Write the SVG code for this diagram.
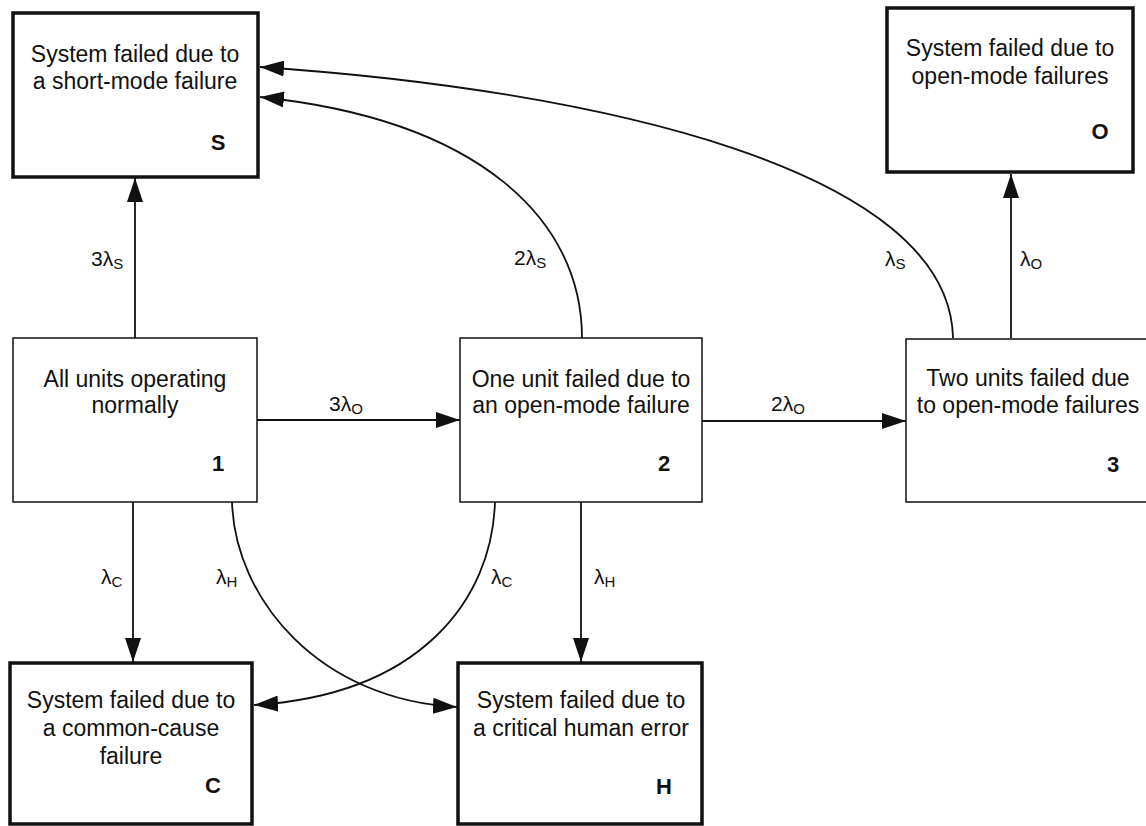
<svg xmlns="http://www.w3.org/2000/svg" width="1146" height="826" viewBox="0 0 1146 826">
  <style>
    .bg { fill: #ffffff; }
    .state { fill: #ffffff; stroke: #111; stroke-width: 1.5; }
    .absorb { fill: #ffffff; stroke: #111; stroke-width: 3.5; }
    .txt { font-family: "Liberation Sans", Arial, sans-serif; font-size: 23px; fill: #111; text-anchor: middle; }
    .id { font-family: "Liberation Sans", Arial, sans-serif; font-size: 22px; font-weight: bold; fill: #111; text-anchor: middle; }
    .rate { font-family: "Liberation Sans", Arial, sans-serif; font-size: 21px; fill: #111; }
    .sub { font-size: 15px; }
    .edge { fill: none; stroke: #111; stroke-width: 1.8; marker-end: url(#head); }
  </style>
  <defs>
    <marker id="head" markerUnits="userSpaceOnUse" markerWidth="24" markerHeight="16" refX="24" refY="8" orient="auto">
      <path d="M0,0 L24,8 L0,16 z" fill="#111"/>
    </marker>
  </defs>

  <rect class="bg" x="0" y="0" width="1146" height="826"/>

  <!-- transitions -->
  <g id="connectors">
    <path class="edge" d="M135,338 L135,178"/>
    <path class="edge" d="M1011,338 L1011,174"/>
    <path class="edge" d="M257,420 L460,420"/>
    <path class="edge" d="M702,421 L906,421"/>
    <path class="edge" d="M133,502 L133,662"/>
    <path class="edge" d="M581,502 L581,662"/>
    <path class="edge" d="M582,338 C582,220 480,120 260,97"/>
    <path class="edge" d="M953,338 C950,170 600,90 260,67"/>
    <path class="edge" d="M495,502 C492,600 420,695 254,705"/>
    <path class="edge" d="M232,502 C235,600 320,700 457,707"/>

    <text class="rate" x="91" y="266">3λ<tspan class="sub" dy="3">S</tspan></text>
    <text class="rate" x="514" y="265">2λ<tspan class="sub" dy="3">S</tspan></text>
    <text class="rate" x="885" y="266">λ<tspan class="sub" dy="3">S</tspan></text>
    <text class="rate" x="1020" y="266">λ<tspan class="sub" dy="3">O</tspan></text>
    <text class="rate" x="329" y="411">3λ<tspan class="sub" dy="3">O</tspan></text>
    <text class="rate" x="771" y="411">2λ<tspan class="sub" dy="3">O</tspan></text>
    <text class="rate" x="101" y="584">λ<tspan class="sub" dy="3">C</tspan></text>
    <text class="rate" x="216" y="584">λ<tspan class="sub" dy="3">H</tspan></text>
    <text class="rate" x="491" y="584">λ<tspan class="sub" dy="3">C</tspan></text>
    <text class="rate" x="594" y="584">λ<tspan class="sub" dy="3">H</tspan></text>
  </g>

  <g id="state-S">
    <rect class="absorb" x="13" y="13" width="245" height="164"/>
    <text class="txt" x="135" y="62">System failed due to</text>
    <text class="txt" x="135" y="89">a short-mode failure</text>
    <text class="id" x="218" y="150">S</text>
  </g>

  <g id="state-O">
    <rect class="absorb" x="887" y="8" width="246" height="164"/>
    <text class="txt" x="1010" y="56">System failed due to</text>
    <text class="txt" x="1010" y="84">open-mode failures</text>
    <text class="id" x="1100" y="139">O</text>
  </g>

  <g id="state-1">
    <rect class="state" x="13" y="338" width="244" height="164"/>
    <text class="txt" x="135" y="387">All units operating</text>
    <text class="txt" x="135" y="413">normally</text>
    <text class="id" x="218" y="471">1</text>
  </g>

  <g id="state-2">
    <rect class="state" x="460" y="338" width="242" height="164"/>
    <text class="txt" x="581" y="387">One unit failed due to</text>
    <text class="txt" x="581" y="413">an open-mode failure</text>
    <text class="id" x="664" y="471">2</text>
  </g>

  <g id="state-3">
    <rect class="state" x="906" y="339" width="250" height="163"/>
    <text class="txt" x="1028" y="386">Two units failed due</text>
    <text class="txt" x="1028" y="413">to open-mode failures</text>
    <text class="id" x="1113" y="472">3</text>
  </g>

  <g id="state-C">
    <rect class="absorb" x="10" y="663" width="242" height="161"/>
    <text class="txt" x="131" y="708">System failed due to</text>
    <text class="txt" x="131" y="736">a common-cause</text>
    <text class="txt" x="131" y="764">failure</text>
    <text class="id" x="213" y="793">C</text>
  </g>

  <g id="state-H">
    <rect class="absorb" x="458" y="663" width="244" height="161"/>
    <text class="txt" x="581" y="708">System failed due to</text>
    <text class="txt" x="581" y="736">a critical human error</text>
    <text class="id" x="664" y="794">H</text>
  </g>
</svg>
